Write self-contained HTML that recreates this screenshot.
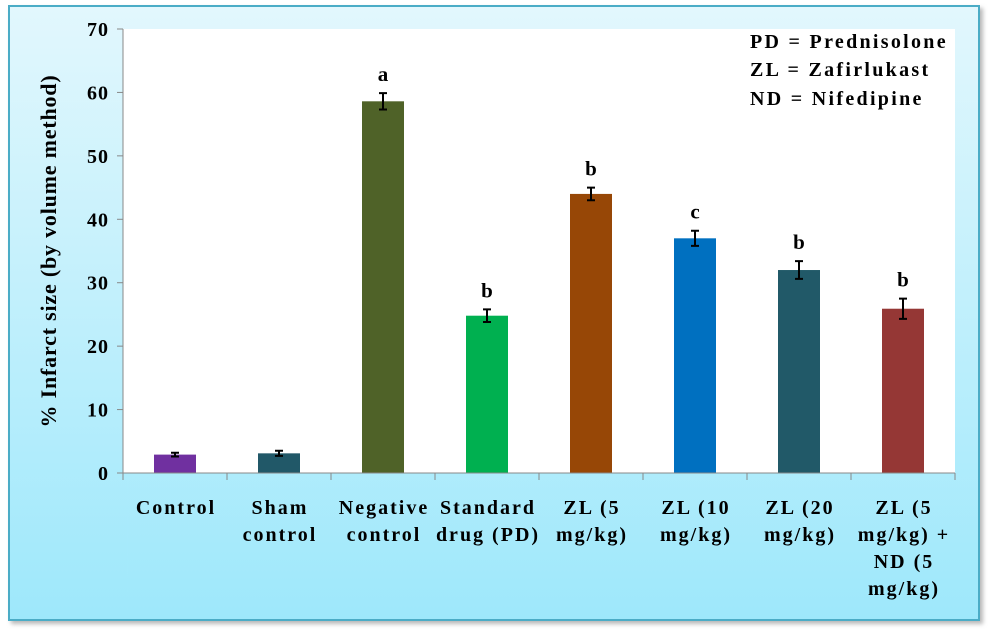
<!DOCTYPE html>
<html><head><meta charset="utf-8"><style>
body{margin:0;background:#fff;width:989px;height:633px;overflow:hidden}
svg{display:block;font-family:"Liberation Serif",serif;font-weight:bold}
</style></head><body>
<svg width="989" height="633">
<defs>
<linearGradient id="bg" x1="0" y1="0" x2="0" y2="1"><stop offset="0" stop-color="#E2F7FD"/><stop offset="1" stop-color="#9EE8FB"/></linearGradient>
<filter id="sh"><feDropShadow dx="3" dy="3" stdDeviation="2" flood-color="#888" flood-opacity="0.6"/></filter>
</defs>
<rect x="9" y="6" width="970" height="614" fill="url(#bg)" stroke="#4BACC6" stroke-width="2" filter="url(#sh)"/>
<rect x="123" y="29" width="832" height="444" fill="#fff"/>
<g id="g"></g>
<text transform="translate(56,251) rotate(-90)" text-anchor="middle" font-size="22" letter-spacing="0.8">% Infarct size (by volume method)</text>
<g font-size="20" letter-spacing="2.3">
<text x="750" y="48">PD = Prednisolone</text>
<text x="750" y="76">ZL = Zafirlukast</text>
<text x="750" y="105">ND = Nifedipine</text>
</g>
</svg>
<script>
const categories=[["Control"],["Sham","control"],["Negative","control"],["Standard","drug (PD)"],["ZL (5","mg/kg)"],["ZL (10","mg/kg)"],["ZL (20","mg/kg)"],["ZL (5","mg/kg) +","ND (5","mg/kg)"]];
const values=[2.9,3.1,58.6,24.8,44,37,32,25.9];
const errors=[0.3,0.4,1.3,1,1,1.2,1.4,1.6];
const letters=["","","a","b","b","c","b","b"];
const colors=["#7030A0","#215868","#4F6228","#00B050","#974706","#0070C0","#215968","#953735"];
const yTicks=[0,10,20,30,40,50,60,70];
const NS="http://www.w3.org/2000/svg",g=document.getElementById("g");
const x0=123,x1=955,y0=473,y1=29,ymax=70;
const ys=v=>y0-(v/ymax)*(y0-y1);
const band=(x1-x0)/categories.length;
const xc=i=>x0+band*(i+0.5);
function mk(t,a,txt){const e=document.createElementNS(NS,t);for(const k in a)e.setAttribute(k,a[k]);if(txt!=null)e.textContent=txt;g.appendChild(e);return e;}
yTicks.forEach(v=>{
 const l=mk("line",{x1:x0-6,x2:x0,y1:ys(v),y2:ys(v),stroke:"#888"});
 
 
 const t=mk("text",{x:x0-14,y:ys(v)+7,"text-anchor":"end","font-size":"20","letter-spacing":"1"},v);
 
 
});
values.forEach((v,i)=>{
 const w=42,c=xc(i);
 const r=mk("rect",{x:c-w/2,y:ys(v),width:w,height:y0-ys(v),fill:colors[i]});
 
 
 const e=errors[i],ya=ys(v+e),yb=ys(v-e);
 const eb=mk("path",{d:`M${c},${ya}V${yb}M${c-4},${ya}H${c+4}M${c-4},${yb}H${c+4}`,stroke:"#000","stroke-width":"2",fill:"none"});
 
 
 if(letters[i]){const t=mk("text",{x:c,y:ya-12,"text-anchor":"middle","font-size":"21"},letters[i]);
 
 }
 categories[i].forEach((s,j)=>{const t=mk("text",{x:c+1,y:514+j*27,"text-anchor":"middle","font-size":"20","letter-spacing":"2"},s);
 
 });
});
for(let i=0;i<=categories.length;i++){const l=mk("line",{x1:x0+band*i,x2:x0+band*i,y1:y0,y2:y0+7,stroke:"#888"});
 
 }
const ya=mk("line",{x1:x0,x2:x0,y1:y1,y2:y0,stroke:"#888"});


const xa=mk("line",{x1:x0-6,x2:x1,y1:y0,y2:y0,stroke:"#888"});


</script>
</body></html>
